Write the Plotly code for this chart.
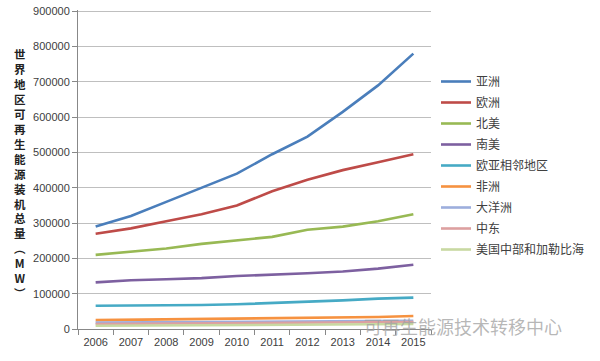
import plotly.graph_objects as go

years = ["2006", "2007", "2008", "2009", "2010", "2011", "2012", "2013", "2014", "2015"]
names = ["亚洲", "欧洲", "北美", "南美", "欧亚相邻地区", "非洲", "大洋洲", "中东", "美国中部和加勒比海"]
asia = [290000, 320000, 360000, 400000, 440000, 495000, 545000, 615000, 690000, 780000]
europe = [270000, 285000, 305000, 325000, 350000, 390000, 423000, 450000, 472000, 495000]
n_america = [210000, 218000, 228000, 241000, 251000, 261000, 281000, 290000, 305000, 325000]
s_america = [132000, 138000, 141000, 144000, 150000, 153000, 158000, 163000, 171000, 182000]
eurasia = [66000, 66000, 68000, 68000, 70000, 73000, 77000, 81000, 86000, 89000]
africa = [25000, 26000, 27000, 28000, 29000, 30000, 31000, 32000, 34000, 37000]
oceania = [18000, 18500, 19000, 19500, 20000, 20500, 21000, 21500, 22000, 23000]
middle_east = [14000, 14500, 15000, 15500, 16000, 16500, 17000, 18000, 19000, 20000]
central_am = [9000, 9500, 10000, 10500, 11000, 11500, 12000, 12500, 13000, 14000]
series = [asia, europe, n_america, s_america, eurasia, africa, oceania, middle_east, central_am]
colors = ["#4A7EBB", "#BE4B48", "#98B954", "#7D60A0", "#46AAC5", "#F69240", "#9DAEDD", "#DDA0A0", "#C8D9A2"]

y_title = "世界地区可再生能源装机总量︵MW︶"
watermark = "可再生能源技术转移中心"

L, R, T, B = 78, 169, 10, 32
W, H = 600, 361
PW, PH = W - L - R, H - T - B


def px_x(px):
    return (px - L) / PW


def px_y(py):
    return (H - B - py) / PH


fig = go.Figure()
for nm, vals, c in zip(names, series, colors):
    fig.add_trace(go.Scatter(x=years, y=vals, name=nm, mode="lines", legendgroup=nm,
                             line=dict(color=c, width=2.6)))

fig.update_layout(
    width=W, height=H,
    margin=dict(l=L, r=R, t=T, b=B, autoexpand=False),
    paper_bgcolor="white", plot_bgcolor="white",
    font=dict(family="Noto Sans CJK SC, Liberation Sans, Arial", size=11, color="#404040"),
    showlegend=True,
    legend=dict(x=px_x(436), y=px_y(67), xanchor="left", yanchor="top",
                font=dict(size=12, color="#404040"), tracegroupgap=2,
                itemwidth=30, bgcolor="rgba(0,0,0,0)"),
    xaxis=dict(type="category", range=[-0.5, 9.5], showline=True, linecolor="#888888", linewidth=1,
               ticks="outside", tickson="boundaries", ticklen=5, tickcolor="#888888",
               ticklabelstandoff=3,
               showgrid=False, tickfont=dict(size=11, color="#404040", family="Liberation Sans, Arial")),
    yaxis=dict(range=[0, 903500], dtick=100000, showline=True, linecolor="#888888", linewidth=1,
               ticks="outside", ticklen=5, tickcolor="#888888", ticklabeloverflow="allow",
               showgrid=True, gridcolor="#BFBFBF", gridwidth=1, zeroline=False,
               tickformat="d", tickfont=dict(size=11, color="#404040", family="Liberation Sans, Arial")),
)

fig.add_annotation(x=px_x(20), y=px_y(173), xref="paper", yref="paper",
                   text="<b>" + "<br>".join(list(y_title)) + "</b>",
                   showarrow=False, xanchor="center", yanchor="middle",
                   font=dict(size=11.5, color="#222222", family="Noto Sans CJK SC"),
                   align="center")

fig.add_annotation(x=px_x(463), y=px_y(326), xref="paper", yref="paper",
                   text=watermark, showarrow=False, xanchor="center", yanchor="middle",
                   font=dict(size=18, color="rgba(160,160,160,0.75)", family="Noto Sans CJK SC"))

fig.write_html("out.html", config={"displayModeBar": False},
               post_script="document.body.style.margin='0px';")
